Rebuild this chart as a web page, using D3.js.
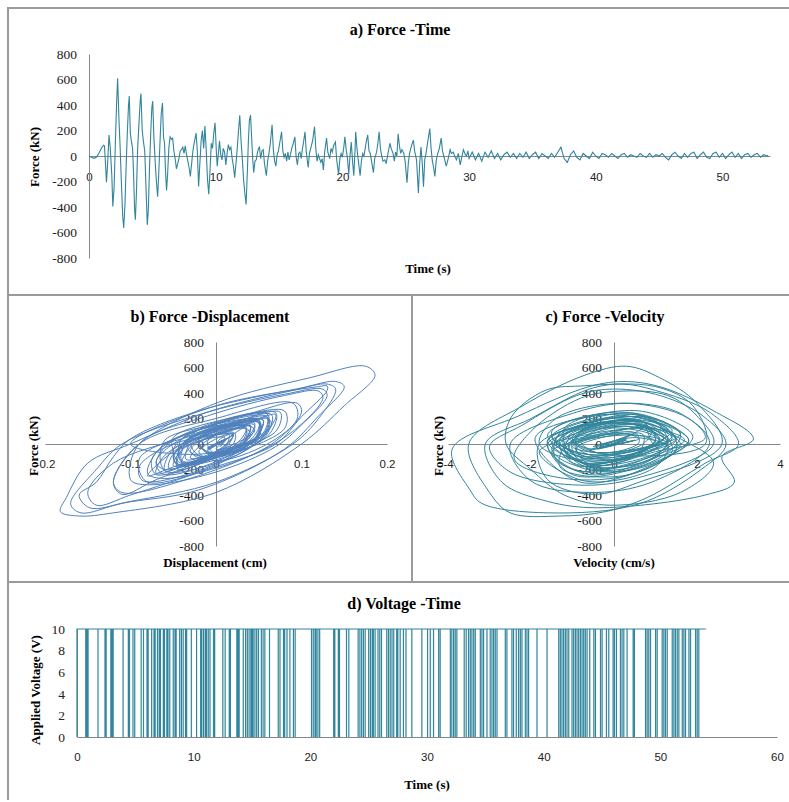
<!DOCTYPE html>
<html>
<head>
<meta charset="utf-8">
<script src="https://cdn.jsdelivr.net/npm/d3@7"></script>
<style>
body { margin: 0; background: #fff; }
.title { font-family: "Liberation Serif", serif; font-weight: bold; font-size: 16px; }
.axtitle { font-family: "Liberation Serif", serif; font-weight: bold; font-size: 13px; }
</style>
</head>
<body>
<svg id="chart" width="789" height="802"></svg>
<script>
// a) force record
var forceTime = [
  0, 0.2, 0.4, 0.6, 0.8, 1.0, 1.15, 1.22, 1.3, 1.38,
  1.48, 1.58, 1.68, 1.8, 1.88, 1.98, 2.08, 2.18, 2.26, 2.36,
  2.46, 2.56, 2.66, 2.74, 2.84, 2.94, 3.04, 3.12, 3.18, 3.26,
  3.34, 3.44, 3.52, 3.6, 3.66, 3.74, 3.84, 3.94, 4.04, 4.1,
  4.2, 4.3, 4.4, 4.5, 4.6, 4.68, 4.78, 4.88, 4.96, 5.03,
  5.12, 5.22, 5.32, 5.42, 5.5, 5.6, 5.7, 5.8, 5.88, 5.96,
  6.04, 6.12, 6.2, 6.3, 6.4, 6.5, 6.6, 6.7, 6.8, 6.9,
  7.0, 7.1, 7.2, 7.3, 7.4, 7.5, 7.6, 7.7, 7.8, 7.9,
  8.0, 8.1, 8.2, 8.3, 8.45, 8.55, 8.65, 8.75, 8.85, 8.95,
  9.05, 9.15, 9.25, 9.35, 9.45, 9.55, 9.65, 9.75, 9.85, 9.95,
  10.05, 10.12, 10.22, 10.3, 10.4, 10.5, 10.6, 10.7, 10.8, 10.9,
  11.0, 11.1, 11.2, 11.3, 11.4, 11.5, 11.6, 11.7, 11.8, 11.9,
  12.0, 12.1, 12.2, 12.3, 12.4, 12.5, 12.58, 12.66, 12.75, 12.85,
  12.92, 13.0, 13.1, 13.2, 13.3, 13.45, 13.55, 13.65, 13.75, 13.85,
  14.0, 14.1, 14.2, 14.3, 14.45, 14.55, 14.65, 14.75, 14.85, 14.95,
  15.05, 15.2, 15.3, 15.4, 15.5, 15.6, 15.7, 15.8, 15.9, 16.0,
  16.1, 16.25, 16.35, 16.45, 16.55, 16.65, 16.75, 16.85, 16.95, 17.05,
  17.15, 17.3, 17.4, 17.55, 17.65, 17.8, 17.9, 18.0, 18.1, 18.2,
  18.3, 18.4, 18.5, 18.6, 18.75, 18.85, 19.0, 19.1, 19.2, 19.3,
  19.45, 19.55, 19.7, 19.8, 19.9, 20.0, 20.1, 20.2, 20.3, 20.4,
  20.5, 20.6, 20.7, 20.8, 20.9, 21.0, 21.05, 21.15, 21.25, 21.4,
  21.5, 21.6, 21.7, 21.8, 21.9, 22.0, 22.1, 22.2, 22.3, 22.45,
  22.55, 22.7, 22.8, 22.9, 23.0, 23.1, 23.2, 23.35, 23.45, 23.6,
  23.75, 23.85, 24.0, 24.1, 24.2, 24.3, 24.4, 24.5, 24.6, 24.7,
  24.85, 24.95, 25.1, 25.2, 25.3, 25.45, 25.6, 25.7, 25.85, 26.0,
  26.1, 26.2, 26.3, 26.4, 26.5, 26.6, 26.75, 26.9, 27.0, 27.1,
  27.2, 27.3, 27.4, 27.5, 27.65, 27.8, 27.9, 28.0, 28.1, 28.2,
  28.35, 28.5, 28.6, 28.75, 28.9, 29.0, 29.15, 29.3, 29.4, 29.55,
  29.7, 29.8, 29.9, 30.0, 30.25, 30.5, 30.75, 31.0, 31.25, 31.5,
  31.75, 32.0, 32.25, 32.5, 32.75, 33.0, 33.25, 33.5, 33.75, 34.0,
  34.25, 34.5, 34.75, 35.0, 35.25, 35.5, 35.75, 36.0, 36.25, 36.5,
  36.75, 37.0, 37.25, 37.5, 37.75, 38.0, 38.25, 38.5, 38.75, 39.0,
  39.25, 39.5, 39.75, 40.0, 40.25, 40.5, 40.75, 41.0, 41.25, 41.5,
  41.75, 42.0, 42.25, 42.5, 42.75, 43.0, 43.25, 43.5, 43.75, 44.0,
  44.25, 44.5, 44.75, 45.0, 45.25, 45.5, 45.75, 46.0, 46.25, 46.5,
  46.75, 47.0, 47.25, 47.5, 47.75, 48.0, 48.25, 48.5, 48.75, 49.0,
  49.25, 49.5, 49.75, 50.0, 50.25, 50.5, 50.75, 51.0, 51.25, 51.5,
  51.75, 52.0, 52.25, 52.5, 52.75, 53.0, 53.25, 53.5, 53.6
];
var forceKN = [
  0, -10, -18, -8, 25, 65, 85, 80, -60, -205,
  -40, 165, 60, -150, -395, -250, 100, 420, 610, 300,
  60, -220, -470, -565, -380, -50, 220, 400, 470, 180,
  120, 60, -150, -420, -500, -300, 60, 250, 430, 490,
  200, 110, 40, -250, -540, -430, -80, 200, 380, 430,
  150, -40, -200, -320, -150, 100, 330, 415, 150, 100,
  -120, -270, -150, 60, 150, 130, 140, 40, -20, -100,
  -60, -20, 40, 50, 70, 20, 80, 10, -40, -90,
  -160, -60, 40, 100, 180, 40, -240, -60, 120, 200,
  60, 235, 50, -180, -300, -120, 100, 60, 180, 260,
  40, -80, 30, 120, 10, -30, 60, 30, -70, 20,
  90, 50, 70, -20, -80, -170, -60, 60, 200, 320,
  120, -20, -185, -290, -380, -120, 120, 280, 320, 120,
  -20, -130, -40, -30, 30, 75, -20, 40, 50, -60,
  -155, -40, 20, 90, 245, 50, -40, -80, 10, 40,
  100, 190, 40, -10, 20, -40, 30, -30, 10, 60,
  90, 150, -10, -70, 20, 30, -20, 60, 120, 190,
  30, -90, 20, 80, 120, 230, 60, -40, 10, -20,
  -50, -20, -110, 30, 140, 30, -20, 60, 30, 80,
  110, -30, -145, -20, 20, -10, 60, 150, 50, -20,
  -140, 0, 110, -40, -155, 50, 190, 60, -30, -155,
  -40, 20, 0, 60, 120, 165, 40, 20, -40, -130,
  -20, 30, 100, 190, 60, 0, -40, -30, -60, 20,
  100, 60, 20, -40, 30, 0, 175, 80, 20, 50,
  20, -40, -210, -60, 20, 80, 125, 40, -30, -290,
  -60, 70, -50, -240, -30, 20, 120, 215, 60, -40,
  -90, -160, -40, 10, 60, 140, 40, 0, -40, -80,
  -20, 50, 20, 30, -10, -30, 20, -70, -20, 50,
  10, 0, 40, -20, 30, -30, 20, -40, 30, -10,
  40, -20, 20, -30, 10, 30, -10, 20, -20, 20,
  -10, 30, -20, 10, 30, -20, 20, 0, -20, 20,
  -10, 30, 70, -20, -50, 10, 40, -10, -30, 20,
  0, -20, 30, 0, -20, 20, 10, -10, 20, 0,
  -20, 10, 20, -10, 10, 0, -10, 20, 0, -10,
  20, -10, 10, 0, 20, -10, -30, 10, 30, 0,
  -20, 20, -10, 20, 30, -20, 10, 30, -10, -20,
  20, 30, -10, 20, -20, 10, 30, -10, 20, -20,
  10, 20, -10, 10, 20, -10, 10, 0, 5
];

// b) and c) hysteresis loops: force, displacement (cm), velocity (cm/s)
var loopForce = [
  0,
  40, 85, 0, -200,
  0, 165, 0, -280, -395, -300,
  0, 320, 520, 610, 540, 300, 0, -380, -540, -565, -530, -420, -150,
  0, 250, 420, 470, 430, 200, 0, -300, -450, -500, -400, -300, -100,
  40, 260, 440, 490, 450, 220, -40, -360, -465, -540, -470, -200,
  0, 230, 390, 430, 380, 150, -20, -220, -320, -280,
  0, 220, 380, 415, 360, 100, -120, -270, -230,
  0, 150, 60, -100, -60,
  20, 80, -20, -160, -100,
  40, 180, 30, -240, -150,
  30, 235, 50, -300, -120,
  60, 260, 120, -80, 0,
  120, 20, -70, 10,
  90, -40, -170, -60,
  50, 240, 320, 250, 0, -290, -380, -300,
  0, 200, 320, 200, 0, -130, -60,
  75, -30, -155, -50,
  80, 245, 60, -80,
  20, 190, 60, -40,
  150, -20, -70,
  40, 190, 0, -90,
  60, 230, 40, -110,
  20, 140, 0, -145,
  0, 150, 20, -140,
  40, 190, 10, -155,
  30, 165, 0, -130,
  50, 190, 40, -60,
  40, 175, 0, -210,
  30, 125, -60, -290, -180,
  0, 70, -60, -240, -120,
  30, 215, 20, -160,
  40, 140, 10, -80,
  0, 300, 450, 455, 420, 214, 0, -200, -400, -480, -380, -150,
  60, 210, 90, -120, -230, -90,
  80, 250, 100, -60, -200, -140,
  40, 170, 30, -180, -250, -60,
  100, 200, 150, -40, -170, -100,
  50, 120, -20, -110, 30, 180, 60, -150, -210,
  -40, 120, 230, 70, -100, -190, -80,
  20, 140, 100, -60, -120, 0,
  110, 200, 40, -130, -170, -20,
  50, -20, 40, -40, 30, -30, 20, -20, 70, -50, 30, -10, 0
];
var loopDisp = [
  0,
  0.005, 0.022, 0.02, -0.045,
  -0.035, 0.045, 0.03, -0.07, -0.11, -0.12,
  -0.09, 0.0, 0.11, 0.175, 0.186, 0.15, 0.10, 0.0, -0.12, -0.16, -0.182, -0.175, -0.15,
  -0.10, -0.01, 0.09, 0.13, 0.14, 0.12, 0.09, 0.0, -0.10, -0.148, -0.16, -0.14, -0.12,
  -0.10, -0.02, 0.10, 0.14, 0.15, 0.12, 0.08, -0.02, -0.11, -0.158, -0.17, -0.14,
  -0.11, -0.02, 0.08, 0.125, 0.13, 0.10, 0.07, 0.0, -0.08, -0.10,
  -0.09, -0.01, 0.08, 0.12, 0.125, 0.09, 0.03, -0.06, -0.08,
  -0.06, 0.03, 0.04, -0.01, -0.03,
  -0.02, 0.02, 0.01, -0.045, -0.05,
  -0.03, 0.05, 0.045, -0.06, -0.07,
  -0.05, 0.06, 0.055, -0.08, -0.09,
  -0.04, 0.08, 0.08, 0.0, -0.02,
  0.035, 0.03, -0.01, -0.02,
  0.02, 0.01, -0.045, -0.05,
  -0.05, 0.04, 0.095, 0.10, 0.065, -0.04, -0.11, -0.12,
  -0.09, 0.0, 0.09, 0.095, 0.06, 0.0, -0.02,
  0.015, 0.01, -0.04, -0.05,
  -0.03, 0.07, 0.06, 0.0,
  -0.01, 0.05, 0.05, 0.0,
  0.04, 0.03, -0.01,
  -0.02, 0.055, 0.04, -0.02,
  -0.03, 0.065, 0.055, -0.02,
  -0.035, 0.04, 0.03, -0.04,
  -0.04, 0.045, 0.035, -0.04,
  -0.04, 0.055, 0.04, -0.045,
  -0.035, 0.05, 0.04, -0.04,
  -0.03, 0.055, 0.045, -0.01,
  -0.02, 0.05, 0.045, -0.06,
  -0.06, 0.035, 0.025, -0.085, -0.09,
  -0.05, 0.02, 0.0, -0.07, -0.075,
  -0.05, 0.06, 0.05, -0.04,
  -0.02, 0.04, 0.03, -0.02,
  -0.10, 0.0, 0.12, 0.13, 0.13, 0.10, 0.07, -0.01, -0.10, -0.14, -0.15, -0.12,
  -0.03, 0.06, 0.06, -0.02, -0.07, -0.06,
  -0.01, 0.075, 0.07, 0.01, -0.06, -0.07,
  -0.04, 0.05, 0.04, -0.05, -0.08, -0.05,
  0.0, 0.06, 0.065, 0.02, -0.04, -0.05,
  -0.02, 0.035, 0.02, -0.03, -0.01, 0.05, 0.05, -0.03, -0.06,
  -0.05, 0.02, 0.07, 0.055, -0.01, -0.055, -0.05,
  -0.02, 0.04, 0.045, 0.0, -0.035, -0.03,
  0.02, 0.06, 0.05, -0.02, -0.05, -0.035,
  0.01, 0.005, 0.012, -0.01, 0.008, -0.01, 0.005, -0.005, 0.02, -0.01, 0.01, 0.0, 0
];
var loopVel = [
  0,
  0.6, 0.2, -1.1, -0.4,
  1.3, 0.3, -1.8, -1.6, -0.5, 0.6,
  2.6, 2.0, 1.1, 0.3, -0.7, -2.2, -3.5, -3.0, -2.5, -1.3, -0.2, 0.8, 2.2,
  3.0, 2.3, 1.0, 0.2, -0.6, -2.0, -3.1, -2.7, -1.6, -0.4, 2.2, 2.9, 2.6,
  3.36, 2.4, 1.2, 0.3, -0.6, -2.3, -3.9, -3.47, -3.19, -1.6, 0.6, 2.1,
  2.7, 2.1, 1.0, -0.1, -0.9, -2.2, -3.0, -2.5, -1.0, 0.4,
  2.4, 2.0, 1.3, 0.2, -0.8, -2.0, -2.4, -1.2, 0.5,
  1.6, 0.6, -0.9, -1.1, 0.4,
  1.0, 0.2, -1.2, -0.7, 0.8,
  1.5, 0.5, -1.6, -1.0, 0.9,
  1.8, 0.4, -1.9, -0.8, 1.2,
  1.9, 0.6, -1.2, -1.0, 0.7,
  0.9, -0.8, -0.4, 0.6,
  0.5, -1.2, -0.5, 1.0,
  2.2, 1.6, 0.4, -0.9, -2.5, -2.0, -0.6, 0.9,
  2.3, 1.8, 0.2, -1.4, -1.8, -0.8, 0.6,
  0.7, -0.9, -0.6, 0.7,
  1.6, 0.4, -1.5, -0.7,
  1.0, 0.6, -1.1, -0.5,
  0.8, -1.0, -0.2,
  1.2, 0.3, -1.3, -0.3,
  1.4, 0.5, -1.4, -0.5,
  1.3, 0.2, -1.2, -0.4,
  1.1, 0.6, -1.0, -0.8,
  1.5, 0.3, -1.5, -0.6,
  1.3, 0.4, -1.4, -0.3,
  1.2, 0.5, -1.0, -0.6,
  1.4, 0.7, -1.6, -0.9,
  1.7, 0.8, -1.8, -0.7, 1.0,
  1.3, 0.3, -1.5, -0.6, 0.9,
  1.8, 0.4, -1.6, -0.5,
  1.1, 0.3, -0.9, -0.2,
  2.2, 1.9, 1.0, -0.8, -1.66, -2.47, -2.6, -2.0, -1.2, -0.1, 1.6, 2.4,
  1.5, 0.6, -1.3, -1.4, -0.3, 1.2,
  1.6, 0.2, -1.5, -1.2, -0.5, 0.8,
  1.3, -0.2, -1.1, -1.3, 0.2, 1.4,
  1.2, 0.9, -0.7, -1.5, -0.9, 0.5,
  1.0, -0.3, -0.9, -0.2, 1.1, 0.4, -1.2, -1.0, 0.3,
  1.5, 1.3, -0.4, -1.6, -1.0, -0.4, 1.1,
  0.9, 0.7, -0.8, -0.9, 0.2, 1.0,
  1.4, -0.1, -1.3, -1.1, 0.4, 1.3,
  0.5, -0.5, 0.3, -0.4, 0.5, -0.3, 0.4, -0.3, 0.4, -0.6, 0.3, -0.2, 0
];

// d) times (s) where the 10 V signal drops to 0
var voltDips = [
  0.75, 0.85, 0.95, 1.8, 2.4, 2.5, 2.9, 3.0, 3.1, 3.95, 4.4, 4.5, 4.8, 4.95,
  5.5, 5.7, 6.0, 6.1, 6.4, 6.6, 6.7, 6.9, 7.05, 7.15, 7.4, 7.5, 7.7, 7.8, 7.95,
  8.25, 8.4, 8.5, 8.8, 8.95, 9.1, 9.3, 9.4, 9.8, 10.25, 10.6, 10.7, 10.85, 11.0,
  11.1, 11.25, 11.4, 11.7, 11.8, 12.5, 12.7, 13.05, 13.15, 13.7, 13.8, 13.9,
  14.25, 14.45, 14.6, 14.75, 14.9, 15.0, 15.1, 15.25, 15.4, 15.55, 15.8, 15.95,
  16.1, 16.5, 17.25, 17.4, 17.7, 17.8, 18.0, 18.25, 18.55, 18.7, 20.1, 20.25,
  20.4, 20.5, 20.65, 20.8, 22.0, 22.1, 22.4, 22.5, 23.1, 23.3, 24.1, 24.25,
  24.4, 24.55, 24.7, 25.0, 25.15, 25.3, 25.4, 25.55, 25.8, 25.95, 26.1, 26.55,
  26.7, 26.85, 27.0, 27.15, 27.4, 27.5, 27.7, 27.98, 28.2, 28.7, 29.56, 30.05,
  30.28, 30.56, 31.0, 31.13, 32.0, 32.13, 32.28, 32.42, 32.56, 33.19, 33.36,
  33.56, 33.71, 33.85, 34.0, 34.14, 34.57, 34.71, 34.85, 35.14, 35.42, 35.57,
  35.71, 35.85, 36.0, 36.71, 36.85, 37.28, 37.42, 37.65, 37.85, 38.0, 38.14,
  38.43, 38.57, 38.71, 39.43, 40.29, 41.29, 41.43, 41.57, 41.71, 41.86, 42.0,
  42.15, 42.43, 42.57, 42.72, 42.86, 43.0, 43.15, 43.29, 43.43, 43.57, 43.72,
  43.95, 44.3, 44.44, 44.87, 45.01, 45.38, 45.58, 45.95, 46.07, 46.24, 46.58,
  46.72, 46.87, 47.15, 47.67, 47.78, 48.73, 48.87, 49.01, 49.16, 49.59, 49.73,
  50.16, 50.3, 50.44, 50.59, 51.02, 51.16, 51.3, 51.45, 51.59, 51.88, 52.02,
  52.16, 52.45, 52.59, 53.02, 53.16, 53.3
];
var voltEnd = 53.9;

var forceTicks = [-800, -600, -400, -200, 0, 200, 400, 600, 800];
var timeTicksA = [0, 10, 20, 30, 40, 50];
var dispTicks = [-0.2, -0.1, 0, 0.1, 0.2];
var velTicks = [-4, -2, 0, 2, 4];
var voltTicks = [0, 2, 4, 6, 8, 10];
var timeTicksD = [0, 10, 20, 30, 40, 50, 60];

var teal = "#31859c", blue = "#4f81bd", grey = "#868686";
var svg = d3.select("#chart");

// panel frame lines
svg.append("path")
    .attr("d", "M8,800V8H789M8,295H789M8,582H789M412,295V582")
    .attr("fill", "none")
    .attr("stroke", "#9a9a9a")
    .attr("stroke-width", 2);

function drawAxes(x, y, xTicks, yTicks, xPad, xAt, yAt) {
    var gx = svg.append("g")
        .attr("transform", "translate(0," + y(yAt) + ")")
        .call(d3.axisBottom(x).tickValues(xTicks).tickSize(0).tickPadding(xPad).tickFormat(String));
    gx.select(".domain").attr("stroke", grey);
    gx.selectAll("text")
        .style("font-family", "'Liberation Sans', sans-serif")
        .style("font-size", "11.5px")
        .attr("fill", "#222");

    var gy = svg.append("g")
        .attr("transform", "translate(" + x(xAt) + ",0)")
        .call(d3.axisLeft(y).tickValues(yTicks).tickSize(0).tickPadding(12).tickFormat(String));
    gy.select(".domain").attr("stroke", grey);
    gy.selectAll("text")
        .style("font-family", "'Liberation Serif', serif")
        .style("font-size", "13.5px")
        .attr("fill", "#222");
}

function label(cls, txt, x, y, rotate) {
    var t = svg.append("text")
        .attr("class", cls)
        .attr("text-anchor", "middle")
        .attr("dy", ".35em")
        .text(txt);
    if (rotate) t.attr("transform", "translate(" + x + "," + y + ") rotate(-90)");
    else t.attr("x", x).attr("y", y);
}

// a) Force - Time
var xA = d3.scaleLinear().domain([0, 53.75]).range([89, 770]);
var yA = d3.scaleLinear().domain([-800, 800]).range([258, 54]);
drawAxes(xA, yA, timeTicksA, forceTicks, 17, 0, 0);
svg.append("path")
    .datum(d3.range(forceTime.length))
    .attr("fill", "none")
    .attr("stroke", teal)
    .attr("stroke-width", 1.1)
    .attr("d", d3.line()
        .x(function(i) { return xA(forceTime[i]); })
        .y(function(i) { return yA(forceKN[i]); }));
label("title", "a) Force -Time", 400, 29);
label("axtitle", "Force (kN)", 34, 157, true);
label("axtitle", "Time (s)", 428, 268);

// b) Force - Displacement
var nLoop = Math.min(loopForce.length, loopDisp.length, loopVel.length);
var xB = d3.scaleLinear().domain([-0.2, 0.2]).range([45, 387]);
var yB = d3.scaleLinear().domain([-800, 800]).range([546, 342]);
drawAxes(xB, yB, dispTicks, forceTicks, 16, 0, 0);
svg.append("path")
    .datum(d3.range(nLoop))
    .attr("fill", "none")
    .attr("stroke", blue)
    .attr("stroke-width", 1)
    .attr("d", d3.line()
        .curve(d3.curveCatmullRom.alpha(0.5))
        .x(function(i) { return xB(loopDisp[i]); })
        .y(function(i) { return yB(loopForce[i]); }));
label("title", "b) Force -Displacement", 210, 316);
label("axtitle", "Force (kN)", 33, 446, true);
label("axtitle", "Displacement (cm)", 215, 562);

// c) Force - Velocity
var xC = d3.scaleLinear().domain([-4, 4]).range([448, 780]);
var yC = d3.scaleLinear().domain([-800, 800]).range([546, 342]);
drawAxes(xC, yC, velTicks, forceTicks, 16, 0, 0);
svg.append("path")
    .datum(d3.range(nLoop))
    .attr("fill", "none")
    .attr("stroke", teal)
    .attr("stroke-width", 1)
    .attr("d", d3.line()
        .curve(d3.curveCatmullRom.alpha(0.5))
        .x(function(i) { return xC(loopVel[i]); })
        .y(function(i) { return yC(loopForce[i]); }));
label("title", "c) Force -Velocity", 605, 316);
label("axtitle", "Force (kN)", 438, 446, true);
label("axtitle", "Velocity (cm/s)", 614, 562);

// d) Voltage - Time
var xD = d3.scaleLinear().domain([0, 60]).range([77, 777]);
var yD = d3.scaleLinear().domain([0, 10]).range([737, 629]);
drawAxes(xD, yD, timeTicksD, voltTicks, 16, 0, 0);
var voltPts = [[0, 0], [0, 10]];
voltDips.forEach(function(t) {
    voltPts.push([t, 10], [t, 0], [t, 10]);
});
voltPts.push([voltEnd, 10]);
svg.append("path")
    .datum(voltPts)
    .attr("fill", "none")
    .attr("stroke", teal)
    .attr("stroke-width", 1.2)
    .attr("d", d3.line()
        .x(function(d) { return xD(d[0]); })
        .y(function(d) { return yD(d[1]); }));
label("title", "d) Voltage -Time", 404, 603);
label("axtitle", "Applied Voltage (V)", 35, 690, true);
label("axtitle", "Time (s)", 427, 784);
</script>
</body>
</html>
